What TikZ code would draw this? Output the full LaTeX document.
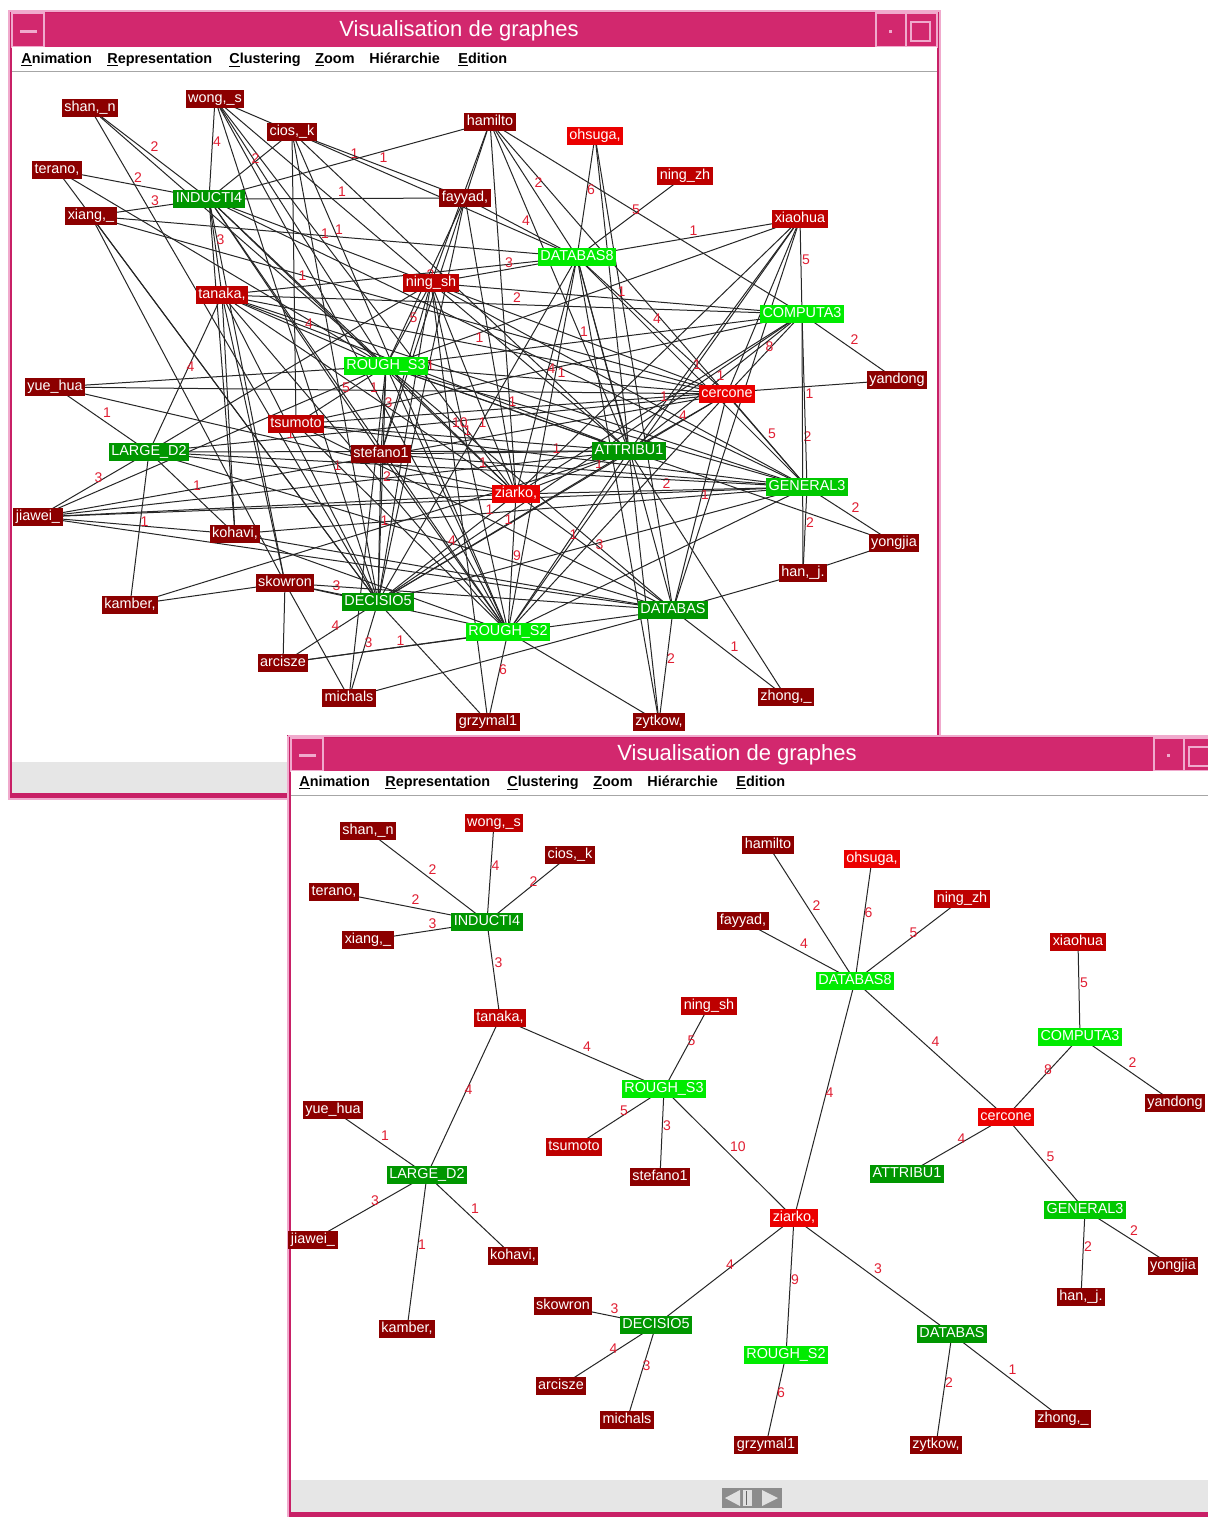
\documentclass[tikz,border=0pt]{standalone}
\usepackage{fontspec}
\setmainfont{Liberation Sans}
\pgfdeclarelayer{twin}\pgfdeclarelayer{tedge}\pgfdeclarelayer{tnode}\pgfdeclarelayer{bwin}\pgfdeclarelayer{bedge}
\pgfsetlayers{twin,tedge,tnode,bwin,bedge,main}
\definecolor{cdr}{RGB}{140,0,0}
\definecolor{cmr}{RGB}{190,0,0}
\definecolor{cbr}{RGB}{235,0,0}
\definecolor{cdg}{RGB}{0,150,0}
\definecolor{cmg}{RGB}{0,200,0}
\definecolor{cbg}{RGB}{0,235,0}
\definecolor{clbl}{RGB}{225,30,50}
\definecolor{titlecol}{RGB}{210,40,110}
\definecolor{framecol}{RGB}{200,32,102}
\definecolor{framelight}{RGB}{240,170,205}
\definecolor{bandgray}{RGB}{230,230,230}
\tikzset{
  nd/.style={rectangle, inner xsep=1.3pt, inner ysep=0pt, minimum height=9pt,
    text=white, font=\fontsize{7.2}{8}\selectfont, text height=5.4pt, text depth=1.5pt},
  dr/.style={nd, fill=cdr}, mr/.style={nd, fill=cmr}, br/.style={nd, fill=cbr},
  dg/.style={nd, fill=cdg}, mg/.style={nd, fill=cmg}, bg/.style={nd, fill=cbg},
  ed/.style={draw=black!85, line width=0.5pt},
  lbl/.style={midway, anchor=south west, inner sep=0.3pt, yshift=0.6pt, text=clbl,
    font=\fontsize{7}{8}\selectfont},
  wtitle/.style={text=white, font=\fontsize{11}{13}\selectfont, inner sep=0pt},
  menu/.style={anchor=base west, inner sep=0pt, font=\fontsize{7.2}{8}\selectfont\bfseries},
  btn/.style={draw=framelight, line width=0.6pt},
}
\begin{document}
\begin{tikzpicture}[x=0.5pt, y=-0.5pt]
\useasboundingbox (0,0) rectangle (1208,1517);

% ---------------- top window frame
\begin{pgfonlayer}{twin}
\fill[white] (0,0) rectangle (1208,1517);
\fill[framecol] (8,10) rectangle (941,800);
\draw[framelight, line width=0.6pt] (9,11) rectangle (940,799);
\fill[titlecol] (12,13) rectangle (937,47);
\draw[btn] (12,13) rectangle (44,47);
\fill[framelight] (20,30) rectangle (37,33);
\draw[btn] (876,13) rectangle (906,47);
\fill[framelight] (889,30) rectangle (892,33);
\draw[btn] (906,13) rectangle (937,47);
\draw[btn] (911,22) rectangle (930,41);
\node[wtitle] (ttitle) at (459,31) {Visualisation de graphes};
\fill[white] (12,47) rectangle (937,72);
\draw[black!35, line width=0.5pt] (12,71) -- (937,71);
\node[menu] (tm1) at (21,63) {\underline{A}nimation};
\node[menu] (tm2) at (107,63) {\underline{R}epresentation};
\node[menu] (tm3) at (229,63) {\underline{C}lustering};
\node[menu] (tm4) at (315,63) {\underline{Z}oom};
\node[menu] (tm5) at (369,63) {Hiérarchie};
\node[menu] (tm6) at (458,63) {\underline{E}dition};
\fill[white] (12,72) rectangle (937,762);
\fill[bandgray] (12,762) rectangle (937,793);
\end{pgfonlayer}

% ---------------- top nodes
\begin{pgfonlayer}{tnode}
\node[dr] (tshan) at (90,108) {shan,\_n};
\node[dr] (twong) at (215,99) {wong,\_s};
\node[dr] (tcios) at (292,132) {cios,\_k};
\node[dr] (tterano) at (57,170) {terano,};
\node[dg] (tinduct) at (209,199) {INDUCTI4};
\node[dr] (txiang) at (91,216) {xiang,\_};
\node[dr] (thamilto) at (490,122) {hamilto};
\node[br] (tohsuga) at (595,136) {ohsuga,};
\node[mr] (tningzh) at (685,176) {ning\_zh};
\node[dr] (tfayyad) at (465,198) {fayyad,};
\node[mr] (txiaohua) at (800,219) {xiaohua};
\node[bg] (tdb8) at (577,257) {DATABAS8};
\node[mr] (tningsh) at (431,283) {ning\_sh};
\node[mr] (ttanaka) at (222,295) {tanaka,};
\node[bg] (tcomp) at (802,314) {COMPUTA3};
\node[bg] (trs3) at (386,366) {ROUGH\_S3};
\node[dr] (tyuehua) at (55,387) {yue\_hua};
\node[dr] (tyandong) at (897,380) {yandong};
\node[br] (tcercone) at (727,394) {cercone};
\node[mr] (ttsumoto) at (296,424) {tsumoto};
\node[dg] (tlarge) at (149,452) {LARGE\_D2};
\node[dr] (tstefano) at (381,454) {stefano1};
\node[dg] (tattrib) at (629,451) {ATTRIBU1};
\node[mg] (tgeneral) at (807,487) {GENERAL3};
\node[br] (tziarko) at (516,494) {ziarko,};
\node[dr] (tjiawei) at (38,517) {jiawei\_};
\node[dr] (tkohavi) at (235,534) {kohavi,};
\node[dr] (tyongjia) at (894,543) {yongjia};
\node[dr] (than) at (803,573) {han,\_j.};
\node[dr] (tskowron) at (285,583) {skowron};
\node[dr] (tkamber) at (130,605) {kamber,};
\node[dg] (tdecis) at (378,602) {DECISIO5};
\node[dg] (tdb) at (673,610) {DATABAS};
\node[bg] (trs2) at (508,632) {ROUGH\_S2};
\node[dr] (tarcisze) at (283,663) {arcisze};
\node[dr] (tmichals) at (349,698) {michals};
\node[dr] (tgrzymal) at (488,722) {grzymal1};
\node[dr] (tzytkow) at (659,722) {zytkow,};
\node[dr] (tzhong) at (786,697) {zhong,\_};
\end{pgfonlayer}

% ---------------- top edges
\begin{pgfonlayer}{tedge}
\foreach \a/\b in {wong/rs3, wong/decis, wong/rs2, wong/ziarko, wong/attrib, wong/cios,
  shan/rs3, shan/decis, terano/rs3, terano/decis, xiang/cercone, xiang/decis, xiang/skowron,
  induct/kohavi, induct/skowron, induct/stefano, induct/rs2, induct/ziarko, induct/general,
  cios/decis, cios/rs2, cios/attrib, cios/db8, cios/tsumoto,
  hamilto/ningsh, hamilto/stefano, hamilto/ziarko, hamilto/attrib, hamilto/comp, hamilto/general,
  fayyad/ziarko, fayyad/decis, ohsuga/attrib, ohsuga/db,
  xiaohua/cercone, xiaohua/attrib, xiaohua/ziarko, xiaohua/rs2, xiaohua/db, xiaohua/rs3,
  db8/rs2, db8/zytkow, db8/db, db8/attrib, db8/tanaka,
  ningsh/general, ningsh/ziarko, ningsh/rs2, ningsh/decis, ningsh/large, ningsh/stefano, ningsh/grzymal,
  tanaka/general, tanaka/decis, tanaka/skowron, tanaka/kohavi, tanaka/rs2,
  yuehua/rs3, yuehua/cercone, yandong/tsumoto,
  cercone/large, cercone/rs2, cercone/decis,
  tsumoto/rs2, tsumoto/comp, stefano/rs2, stefano/attrib,
  ziarko/attrib, ziarko/jiawei,
  jiawei/general, jiawei/attrib, jiawei/db, jiawei/rs3, jiawei/kohavi, jiawei/cercone,
  kohavi/rs2, kohavi/db, kohavi/general, yongjia/han, yongjia/rs3, han/db,
  comp/rs3, comp/decis,
  skowron/kamber, skowron/db, skowron/arcisze, skowron/michals, skowron/rs2,
  kamber/attrib, arcisze/db, michals/db, michals/rs3, grzymal/decis,
  zytkow/rs2, zytkow/attrib, zhong/attrib,
  rs3/general, rs3/db, rs2/general, decis/general, large/attrib, large/db, rs3/rs2}
  \draw[ed] (t\a.center) -- (t\b.center);
\foreach \a/\b/\l in {induct/shan/2, induct/wong/4, induct/cios/2, induct/terano/2, induct/xiang/3,
  induct/tanaka/3, tanaka/rs3/4, tanaka/large/4, rs3/ningsh/5, rs3/tsumoto/5, rs3/stefano/3,
  rs3/ziarko/10, large/yuehua/1, large/jiawei/3, large/kohavi/1, large/kamber/1,
  db8/hamilto/2, db8/ohsuga/6, db8/ningzh/5, db8/fayyad/4, db8/cercone/4, db8/ziarko/4,
  comp/xiaohua/5, comp/yandong/2, comp/cercone/8, cercone/attrib/4, cercone/general/5,
  general/han/2, general/yongjia/2, ziarko/decis/4, ziarko/rs2/9, ziarko/db/3,
  decis/skowron/3, decis/arcisze/4, decis/michals/3, rs2/grzymal/6, db/zytkow/2, db/zhong/1,
  xiang/db8/1, induct/fayyad/1, induct/hamilto/1, cios/fayyad/1, induct/ningsh/1, induct/rs3/1,
  fayyad/rs3/2, xiaohua/db8/1, db8/ningsh/3, db8/general/1,
  db8/decis/1, ningsh/cercone/1, ningsh/comp/1, tanaka/cercone/1, tanaka/attrib/1,
  tanaka/ziarko/1, tanaka/comp/2, yuehua/ziarko/1, cercone/rs3/1, cercone/db/1,
  tsumoto/general/1, tsumoto/db/1, tsumoto/attrib/1, stefano/decis/1, stefano/general/1,
  ziarko/general/2, ziarko/comp/1, ziarko/large/1, han/comp/2,
  comp/general/1, comp/attrib/1, arcisze/rs2/1, rs3/attrib/1, rs2/attrib/1,
  decis/attrib/1, large/general/1, rs3/decis/2}
  \draw[ed] (t\a.center) -- node[lbl]{\l} (t\b.center);
\end{pgfonlayer}

% ---------------- bottom window frame
\begin{pgfonlayer}{bwin}
\fill[framecol] (287,735) rectangle (1208,1517);
\draw[framelight, line width=0.6pt] (288,736) -- (1208,736) (288,736) -- (288,1517);
\fill[titlecol] (291,738) rectangle (1208,771);
\draw[btn] (291,738) rectangle (323,771);
\fill[framelight] (299,754) rectangle (316,757);
\draw[btn] (1154,738) rectangle (1184,771);
\fill[framelight] (1167,754) rectangle (1170,757);
\draw[btn] (1184,738) rectangle (1215,771);
\draw[btn] (1189,747) rectangle (1212,766);
\node[wtitle] (btitle) at (737,755) {Visualisation de graphes};
\fill[white] (291,771) rectangle (1208,796);
\draw[black!35, line width=0.5pt] (291,795) -- (1208,795);
\node[menu] (bm1) at (299,786) {\underline{A}nimation};
\node[menu] (bm2) at (385,786) {\underline{R}epresentation};
\node[menu] (bm3) at (507,786) {\underline{C}lustering};
\node[menu] (bm4) at (593,786) {\underline{Z}oom};
\node[menu] (bm5) at (647,786) {Hiérarchie};
\node[menu] (bm6) at (736,786) {\underline{E}dition};
\fill[white] (291,796) rectangle (1208,1480);
\fill[bandgray] (291,1480) rectangle (1208,1512);
\fill[black!45] (722,1488) rectangle (782,1508);
\fill[black!12] (725,1498) -- (740,1490) -- (740,1506) -- cycle;
\fill[black!12] (743,1490) rectangle (752,1506);
\draw[black!60, line width=0.5pt] (746,1491) -- (746,1505);
\fill[black!12] (762,1490) -- (778,1498) -- (762,1506) -- cycle;
\end{pgfonlayer}

% ---------------- bottom nodes
\node[dr] (bshan) at (368,831) {shan,\_n};
\node[mr] (bwong) at (494,823) {wong,\_s};
\node[dr] (bcios) at (570,855) {cios,\_k};
\node[dr] (bterano) at (334,892) {terano,};
\node[dg] (binduct) at (487,922) {INDUCTI4};
\node[dr] (bxiang) at (368,940) {xiang,\_};
\node[dr] (bhamilto) at (768,845) {hamilto};
\node[br] (bohsuga) at (872,859) {ohsuga,};
\node[mr] (bningzh) at (962,899) {ning\_zh};
\node[dr] (bfayyad) at (743,921) {fayyad,};
\node[bg] (bdb8) at (855,981) {DATABAS8};
\node[mr] (bxiaohua) at (1078,942) {xiaohua};
\node[bg] (bcomp) at (1080,1037) {COMPUTA3};
\node[mr] (btanaka) at (500,1018) {tanaka,};
\node[mr] (bningsh) at (709,1006) {ning\_sh};
\node[bg] (brs3) at (664,1089) {ROUGH\_S3};
\node[dr] (byuehua) at (333,1110) {yue\_hua};
\node[dr] (byandong) at (1175,1103) {yandong};
\node[br] (bcercone) at (1006,1117) {cercone};
\node[mr] (btsumoto) at (574,1147) {tsumoto};
\node[dr] (bstefano) at (660,1177) {stefano1};
\node[dg] (battrib) at (907,1174) {ATTRIBU1};
\node[dg] (blarge) at (427,1175) {LARGE\_D2};
\node[mg] (bgeneral) at (1085,1210) {GENERAL3};
\node[br] (bziarko) at (794,1218) {ziarko,};
\node[dr] (bjiawei) at (313,1240) {jiawei\_};
\node[dr] (bkohavi) at (513,1256) {kohavi,};
\node[dr] (byongjia) at (1173,1266) {yongjia};
\node[dr] (bhan) at (1081,1297) {han,\_j.};
\node[dr] (bskowron) at (563,1306) {skowron};
\node[dg] (bdecis) at (656,1325) {DECISIO5};
\node[dr] (bkamber) at (407,1329) {kamber,};
\node[dg] (bdb) at (952,1334) {DATABAS};
\node[bg] (brs2) at (786,1355) {ROUGH\_S2};
\node[dr] (barcisze) at (561,1386) {arcisze};
\node[dr] (bmichals) at (627,1420) {michals};
\node[dr] (bzhong) at (1063,1419) {zhong,\_};
\node[dr] (bgrzymal) at (766,1445) {grzymal1};
\node[dr] (bzytkow) at (936,1445) {zytkow,};

% ---------------- bottom edges
\begin{pgfonlayer}{bedge}
\foreach \a/\b/\l in {induct/shan/2, induct/wong/4, induct/cios/2, induct/terano/2, induct/xiang/3,
  induct/tanaka/3, tanaka/rs3/4, tanaka/large/4, rs3/ningsh/5, rs3/tsumoto/5, rs3/stefano/3,
  rs3/ziarko/10, large/yuehua/1, large/jiawei/3, large/kohavi/1, large/kamber/1,
  db8/hamilto/2, db8/ohsuga/6, db8/ningzh/5, db8/fayyad/4, db8/cercone/4, db8/ziarko/4,
  comp/xiaohua/5, comp/yandong/2, comp/cercone/8, cercone/attrib/4, cercone/general/5,
  general/han/2, general/yongjia/2, ziarko/decis/4, ziarko/rs2/9, ziarko/db/3,
  decis/skowron/3, decis/arcisze/4, decis/michals/3, rs2/grzymal/6, db/zytkow/2, db/zhong/1}
  \draw[ed] (b\a.center) -- node[lbl]{\l} (b\b.center);
\end{pgfonlayer}
\end{tikzpicture}
\end{document}
